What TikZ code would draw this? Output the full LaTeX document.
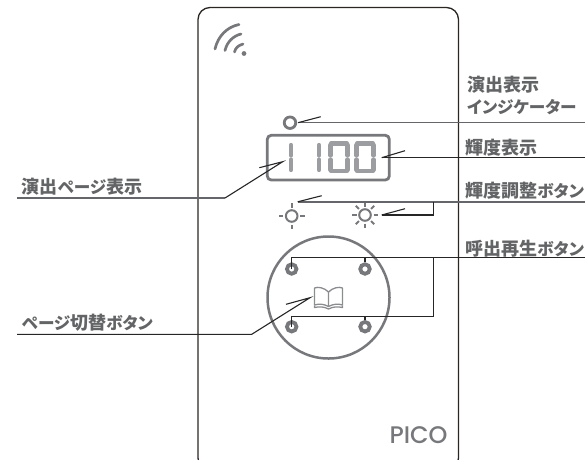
\documentclass[tikz,border=0pt]{standalone}
\usepackage{fontspec}
\setmainfont{Noto Sans CJK JP}[RawFeature={+palt}]
\newfontfamily\picofont{Poppins Medium}
\definecolor{devgray}{HTML}{77787B}
\definecolor{seggray}{HTML}{9B9DA0}
\definecolor{edge}{HTML}{2B2623}
\definecolor{labelgray}{HTML}{636466}
\newcommand{\kn}{\fontsize{16.6}{20}\selectfont}
\tikzset{
  device/.style={draw=edge,line width=1.3pt,rounded corners=12pt},
  icon/.style={draw=devgray,line width=2pt},
  seg/.style={draw=seggray,line width=4.2pt,line cap=round},
  leader/.style={draw=black!85,line width=1.1pt},
  grayleader/.style={draw=devgray!85!black,line width=1.7pt},
  lab/.style={font=\bfseries\fontsize{18}{20}\selectfont,text=labelgray,anchor=west,inner sep=0pt},
}
\newcommand{\zero}[1]{%
  \draw[seg] (#1+2,143.5) -- (#1+18,143.5);
  \draw[seg] (#1+2,171) -- (#1+18,171);
  \draw[seg] (#1+1.5,145) -- (#1+1.5,155.5);
  \draw[seg] (#1+1.5,159.5) -- (#1+1.5,170);
  \draw[seg] (#1+18.5,145) -- (#1+18.5,155.5);
  \draw[seg] (#1+18.5,159.5) -- (#1+18.5,170);
}
\newcommand{\one}[1]{%
  \draw[seg] (#1,145) -- (#1,155.5);
  \draw[seg] (#1,159.5) -- (#1,170);
}
\newcommand{\sunring}[2]{%
  \draw[draw=devgray,line width=2pt] (#1,#2) circle (5.8);
}
\begin{document}
\begin{tikzpicture}[x=1pt,y=-1pt]
\useasboundingbox (0,0) rectangle (585,459);
\begin{scope}
\clip (0,0) rectangle (585,459);
\draw[device] (198,7.5) rectangle (458.5,470);
\end{scope}
% wifi
\fill[devgray] (244,53.5) circle (2.4);
\draw[icon,line cap=round,line width=2.7pt] (215,49) .. controls (218,36) and (227,27) .. (239,24.5);
\draw[icon,line cap=round,line width=2.7pt] (225,50.5) .. controls (227,42) and (233,36) .. (241,34);
\draw[icon,line cap=round,line width=2.7pt] (234.5,52) .. controls (235.5,48) and (238,45.5) .. (243,44);
% indicator
\node[circle,draw=devgray,line width=2.8pt,minimum size=11.5pt,inner sep=0pt] (ind) at (290,122.7) {};
\draw[icon,line width=2.8pt,rounded corners=4pt] (267.3,135.3) rectangle (389.3,180);
\one{291} \one{319}
\zero{329} \zero{355}
% suns
\sunring{291.7}{216}
\foreach \a in {0,90,180,270}
  \draw[draw=devgray,line width=2pt] (291.7,216)++(\a:8.5) -- ++(\a:4.5);
\sunring{365}{215}
\foreach \a in {0,45,...,315}
  \draw[draw=devgray,line width=2pt] (365,215)++(\a:8.5) -- ++(\a:4.5);
% big circle
\draw[icon,line width=2.5pt] (328.5,297.5) circle (61);
\foreach \n/\x/\y in {b1/291.7/269,b2/365/269,b3/291.7/326.7,b4/365/326.7}
  \node[circle,draw=devgray,line width=3.8pt,minimum size=9.5pt,inner sep=0pt] (\n) at (\x,\y) {};
% book
\begin{scope}[draw=devgray!85,line width=1.3pt,line join=round]
\draw (328.5,292) .. controls (324,287.5) and (318,286.5) .. (314.5,288) -- (314.5,305) .. controls (319,303.5) and (324,304) .. (328.5,306.5) .. controls (333,304) and (338,303.5) .. (342.5,305) -- (342.5,288) .. controls (339,286.5) and (333,287.5) .. (328.5,292) -- (328.5,306.5);
\draw (314.5,305.5) -- (314.5,307.5) .. controls (319,306.5) and (324,306.5) .. (328.5,309) .. controls (333,306.5) and (338,306.5) .. (342.5,307.5) -- (342.5,305.5);
\end{scope}
% leaders
\draw[grayleader] (298,122.5) -- (585,122.5);
\draw[leader] (298,122.7) -- (320.7,116.7);
\draw[leader] (381.7,157.7) -- (405,150.7);
\draw[leader] (381.7,157.7) -- (585,157.7);
\draw[grayleader] (297.7,201.8) -- (585,201.8);
\draw[leader] (297.7,201.8) -- (321.7,195.7);
\draw[leader] (381.7,215) -- (405,208.7);
\draw[leader] (381.7,215) -- (433.3,215) -- (433.3,202);
\draw[leader] (b1.center) -- (291.7,257.7) -- (585,257.7);
\draw[leader] (b2.north) -- (365,257.7);
\draw[leader] (433.3,257.7) -- (433.3,316.7);
\draw[leader] (b3.center) -- (291.7,316.7) -- (433.3,316.7);
\draw[leader] (b4.north) -- (365,316.7);
\draw[grayleader] (17,198) -- (225,198);
\draw[leader] (225,198) -- (282.7,161.7) -- (259.3,167.7);
\draw[leader] (17,334.3) -- (251.7,334.3) -- (310,297.7) -- (286,304.3);
% labels
\node[lab] (t1) at (467,85) {演出表示};
\node[lab] (t2) at (467,106.7) {\kn インジケーター};
\node[lab] (t3) at (465,147.3) {輝度表示};
\node[lab] (t4) at (465,190.7) {輝度調整{\kn ボタン}};
\node[lab] (t5) at (465,249) {呼出再生{\kn ボタン}};
\node[lab] (t6) at (21.7,186.7) {演出{\kn ページ}表示};
\node[lab] (t7) at (21.7,322.7) {{\kn ページ}切替{\kn ボタン}};
\node[font=\picofont\fontsize{24}{24}\selectfont,text=devgray,inner sep=0pt] (pico) at (418.5,435.5) {PICO};
\end{tikzpicture}
\end{document}
